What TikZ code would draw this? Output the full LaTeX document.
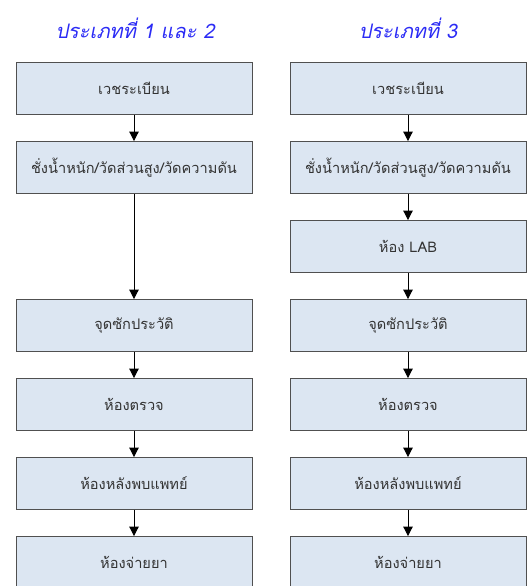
\documentclass[tikz,border=0pt]{standalone}
\usepackage{fontspec}
\usetikzlibrary{arrows.meta}
\newfontfamily\thaifont[Script=Thai]{Loma}
\newfontfamily\thaiit[Script=Thai,FakeSlant=0.2]{Loma}
\definecolor{boxfill}{HTML}{DCE6F2}
\definecolor{boxline}{HTML}{505050}
\definecolor{titleblue}{HTML}{2B2BF5}
\begin{document}
\begin{tikzpicture}[x=1pt,y=-1pt,
  stepbox/.style={draw=boxline,fill=boxfill,line width=0.9pt,minimum width=236pt,minimum height=52pt,inner sep=0pt,font=\thaifont\fontsize{14.6}{17}\selectfont,text=black!80},
  titletext/.style={font=\thaiit\fontsize{20}{24}\selectfont,text=titleblue},
  flow/.style={line width=1pt,-{Triangle[width=9.5pt,length=9.5pt]}}]
\useasboundingbox (0,0) rectangle (532,586);
\node[titletext] (t1) at (135,28) {ประเภทที่ 1 และ 2};
\node[titletext] (t2) at (408,28) {ประเภทที่ 3};
% left column
\node[stepbox] (a1) at (134,88.5) {เวชระเบียน};
\node[stepbox] (a2) at (134,167.5) {ชั่งน้ำหนัก/วัดส่วนสูง/วัดความดัน};
\node[stepbox] (a4) at (134,325.5) {จุดซักประวัติ};
\node[stepbox] (a5) at (134,404.5) {ห้องตรวจ};
\node[stepbox] (a6) at (134,483.5) {ห้องหลังพบแพทย์};
\node[stepbox] (a7) at (134,562.5) {ห้องจ่ายยา};
% right column
\node[stepbox] (b1) at (408,88.5) {เวชระเบียน};
\node[stepbox] (b2) at (408,167.5) {ชั่งน้ำหนัก/วัดส่วนสูง/วัดความดัน};
\node[stepbox] (b3) at (408,246.5) {ห้อง LAB};
\node[stepbox] (b4) at (408,325.5) {จุดซักประวัติ};
\node[stepbox] (b5) at (408,404.5) {ห้องตรวจ};
\node[stepbox] (b6) at (408,483.5) {ห้องหลังพบแพทย์};
\node[stepbox] (b7) at (408,562.5) {ห้องจ่ายยา};
\draw[flow] (a1) -- (a2);
\draw[flow] (a2) -- (a4);
\draw[flow] (a4) -- (a5);
\draw[flow] (a5) -- (a6);
\draw[flow] (a6) -- (a7);
\draw[flow] (b1) -- (b2);
\draw[flow] (b2) -- (b3);
\draw[flow] (b3) -- (b4);
\draw[flow] (b4) -- (b5);
\draw[flow] (b5) -- (b6);
\draw[flow] (b6) -- (b7);
\end{tikzpicture}
\end{document}
